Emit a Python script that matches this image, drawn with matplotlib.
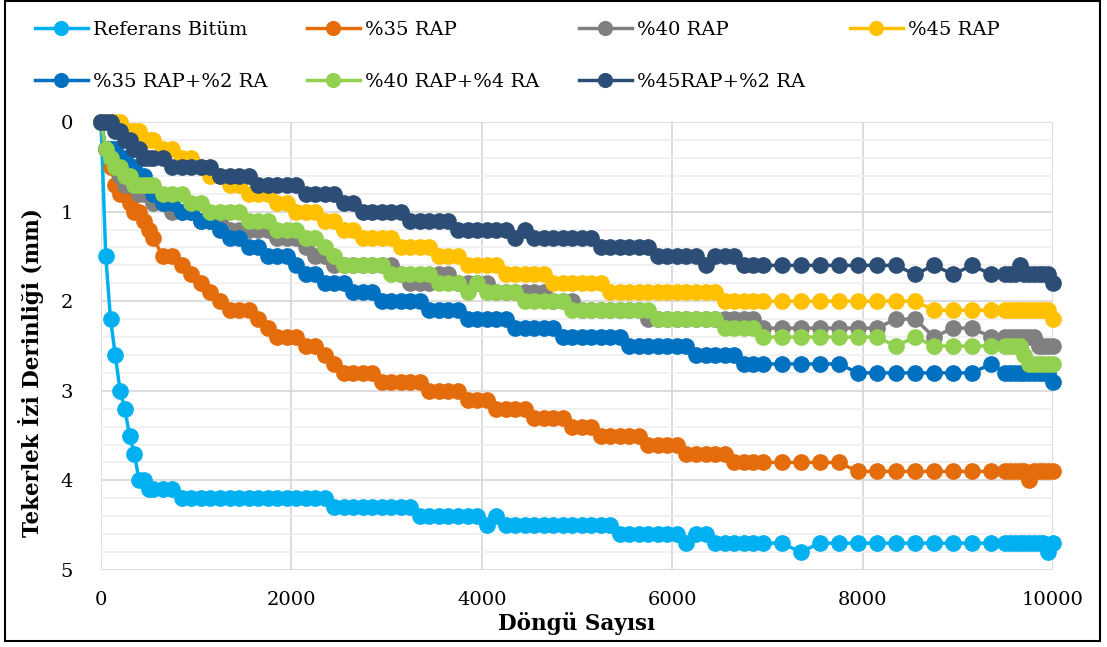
import matplotlib
matplotlib.use('Agg')
import matplotlib.pyplot as plt
from matplotlib.patches import Rectangle
import numpy as np

plt.rcParams['font.family'] = ['DejaVu Serif']

# cycle counts at which rut depth was read
cycles = [0, 50, 100, 150, 200, 250, 300, 350, 400, 450, 500,
          550, 650, 750, 850, 950, 1050, 1150, 1250, 1350, 1450,
          1550, 1650, 1750, 1850, 1950, 2050, 2150, 2250, 2350, 2450,
          2550, 2650, 2750, 2850, 2950, 3050, 3150, 3250, 3350, 3450,
          3550, 3650, 3750, 3850, 3950, 4050, 4150, 4250, 4350, 4450,
          4550, 4650, 4750, 4850, 4950, 5050, 5150, 5250, 5350, 5450,
          5550, 5650, 5750, 5850, 5950, 6050, 6150, 6250, 6350, 6450,
          6550, 6650, 6750, 6850, 6950,
          7150, 7350, 7550, 7750, 7950, 8150, 8350, 8550, 8750, 8950, 9150, 9350,
          9500, 9550, 9600, 9650, 9700, 9750, 9800, 9850, 9900, 9950, 10000]

ref_bitum = [0, 1.5, 2.2, 2.6, 3.0, 3.2, 3.5, 3.7, 4.0, 4.0, 4.1,
             4.1, 4.1, 4.1, 4.2, 4.2, 4.2, 4.2, 4.2, 4.2, 4.2,
             4.2, 4.2, 4.2, 4.2, 4.2, 4.2, 4.2, 4.2, 4.2, 4.3,
             4.3, 4.3, 4.3, 4.3, 4.3, 4.3, 4.3, 4.3, 4.4, 4.4,
             4.4, 4.4, 4.4, 4.4, 4.4, 4.5, 4.4, 4.5, 4.5, 4.5,
             4.5, 4.5, 4.5, 4.5, 4.5, 4.5, 4.5, 4.5, 4.5, 4.6,
             4.6, 4.6, 4.6, 4.6, 4.6, 4.6, 4.7, 4.6, 4.6, 4.7,
             4.7, 4.7, 4.7, 4.7, 4.7,
             4.7, 4.8, 4.7, 4.7, 4.7, 4.7, 4.7, 4.7, 4.7, 4.7, 4.7, 4.7,
             4.7, 4.7, 4.7, 4.7, 4.7, 4.7, 4.7, 4.7, 4.7, 4.8, 4.7]

rap35 = [0, 0.3, 0.5, 0.7, 0.8, 0.8, 0.9, 1.0, 1.0, 1.1, 1.2,
         1.3, 1.5, 1.5, 1.6, 1.7, 1.8, 1.9, 2.0, 2.1, 2.1,
         2.1, 2.2, 2.3, 2.4, 2.4, 2.4, 2.5, 2.5, 2.6, 2.7,
         2.8, 2.8, 2.8, 2.8, 2.9, 2.9, 2.9, 2.9, 2.9, 3.0,
         3.0, 3.0, 3.0, 3.1, 3.1, 3.1, 3.2, 3.2, 3.2, 3.2,
         3.3, 3.3, 3.3, 3.3, 3.4, 3.4, 3.4, 3.5, 3.5, 3.5,
         3.5, 3.5, 3.6, 3.6, 3.6, 3.6, 3.7, 3.7, 3.7, 3.7,
         3.7, 3.8, 3.8, 3.8, 3.8,
         3.8, 3.8, 3.8, 3.8, 3.9, 3.9, 3.9, 3.9, 3.9, 3.9, 3.9, 3.9,
         3.9, 3.9, 3.9, 3.9, 3.9, 4.0, 3.9, 3.9, 3.9, 3.9, 3.9]

rap40 = [0, 0.3, 0.4, 0.5, 0.6, 0.7, 0.7, 0.7, 0.8, 0.8, 0.8,
         0.9, 0.9, 1.0, 1.0, 1.0, 1.1, 1.1, 1.1, 1.2, 1.2,
         1.2, 1.2, 1.2, 1.3, 1.3, 1.3, 1.4, 1.5, 1.5, 1.6,
         1.6, 1.6, 1.6, 1.6, 1.6, 1.6, 1.7, 1.8, 1.8, 1.8,
         1.7, 1.7, 1.8, 1.8, 1.8, 1.8, 1.9, 1.9, 1.9, 1.9,
         1.9, 1.9, 2.0, 2.0, 2.0, 2.1, 2.1, 2.1, 2.1, 2.1,
         2.1, 2.1, 2.2, 2.2, 2.2, 2.2, 2.2, 2.2, 2.2, 2.2,
         2.2, 2.2, 2.2, 2.2, 2.3,
         2.3, 2.3, 2.3, 2.3, 2.3, 2.3, 2.2, 2.2, 2.4, 2.3, 2.3, 2.4,
         2.4, 2.4, 2.4, 2.4, 2.4, 2.4, 2.4, 2.5, 2.5, 2.5, 2.5]

rap45 = [0, 0, 0, 0, 0, 0.1, 0.1, 0.1, 0.1, 0.2, 0.2,
         0.2, 0.3, 0.3, 0.4, 0.4, 0.5, 0.6, 0.6, 0.7, 0.7,
         0.8, 0.8, 0.8, 0.9, 0.9, 1.0, 1.0, 1.0, 1.1, 1.1,
         1.2, 1.2, 1.3, 1.3, 1.3, 1.3, 1.4, 1.4, 1.4, 1.4,
         1.5, 1.5, 1.5, 1.6, 1.6, 1.6, 1.6, 1.7, 1.7, 1.7,
         1.7, 1.7, 1.8, 1.8, 1.8, 1.8, 1.8, 1.8, 1.9, 1.9,
         1.9, 1.9, 1.9, 1.9, 1.9, 1.9, 1.9, 1.9, 1.9, 1.9,
         2.0, 2.0, 2.0, 2.0, 2.0,
         2.0, 2.0, 2.0, 2.0, 2.0, 2.0, 2.0, 2.0, 2.1, 2.1, 2.1, 2.1,
         2.1, 2.1, 2.1, 2.1, 2.1, 2.1, 2.1, 2.1, 2.1, 2.1, 2.2]

rap35_ra2 = [0, 0.3, 0.3, 0.3, 0.4, 0.4, 0.5, 0.5, 0.6, 0.6, 0.7,
             0.8, 0.9, 0.9, 1.0, 1.0, 1.1, 1.1, 1.2, 1.3, 1.3,
             1.4, 1.4, 1.5, 1.5, 1.5, 1.6, 1.7, 1.7, 1.8, 1.8,
             1.8, 1.9, 1.9, 1.9, 2.0, 2.0, 2.0, 2.0, 2.0, 2.1,
             2.1, 2.1, 2.1, 2.2, 2.2, 2.2, 2.2, 2.2, 2.3, 2.3,
             2.3, 2.3, 2.3, 2.4, 2.4, 2.4, 2.4, 2.4, 2.4, 2.4,
             2.5, 2.5, 2.5, 2.5, 2.5, 2.5, 2.5, 2.6, 2.6, 2.6,
             2.6, 2.6, 2.7, 2.7, 2.7,
             2.7, 2.7, 2.7, 2.7, 2.8, 2.8, 2.8, 2.8, 2.8, 2.8, 2.8, 2.7,
             2.8, 2.8, 2.8, 2.8, 2.8, 2.8, 2.8, 2.8, 2.8, 2.8, 2.9]

rap40_ra4 = [0, 0.3, 0.4, 0.5, 0.5, 0.6, 0.6, 0.7, 0.7, 0.7, 0.7,
             0.7, 0.8, 0.8, 0.8, 0.9, 0.9, 1.0, 1.0, 1.0, 1.0,
             1.1, 1.1, 1.1, 1.2, 1.2, 1.2, 1.3, 1.3, 1.4, 1.5,
             1.6, 1.6, 1.6, 1.6, 1.6, 1.7, 1.7, 1.7, 1.7, 1.7,
             1.8, 1.8, 1.8, 1.9, 1.8, 1.9, 1.9, 1.9, 1.9, 2.0,
             2.0, 2.0, 2.0, 2.0, 2.1, 2.1, 2.1, 2.1, 2.1, 2.1,
             2.1, 2.1, 2.1, 2.2, 2.2, 2.2, 2.2, 2.2, 2.2, 2.2,
             2.3, 2.3, 2.3, 2.3, 2.4,
             2.4, 2.4, 2.4, 2.4, 2.4, 2.4, 2.5, 2.4, 2.5, 2.5, 2.5, 2.5,
             2.5, 2.5, 2.5, 2.5, 2.6, 2.7, 2.7, 2.7, 2.7, 2.7, 2.7]

rap45_ra2 = [0, 0, 0, 0.1, 0.1, 0.2, 0.2, 0.3, 0.3, 0.4, 0.4,
             0.4, 0.4, 0.5, 0.5, 0.5, 0.5, 0.5, 0.6, 0.6, 0.6,
             0.6, 0.7, 0.7, 0.7, 0.7, 0.7, 0.8, 0.8, 0.8, 0.8,
             0.9, 0.9, 1.0, 1.0, 1.0, 1.0, 1.0, 1.1, 1.1, 1.1,
             1.1, 1.1, 1.2, 1.2, 1.2, 1.2, 1.2, 1.2, 1.3, 1.2,
             1.3, 1.3, 1.3, 1.3, 1.3, 1.3, 1.3, 1.4, 1.4, 1.4,
             1.4, 1.4, 1.4, 1.5, 1.5, 1.5, 1.5, 1.5, 1.6, 1.5,
             1.5, 1.5, 1.6, 1.6, 1.6,
             1.6, 1.6, 1.6, 1.6, 1.6, 1.6, 1.6, 1.7, 1.6, 1.7, 1.6, 1.7,
             1.7, 1.7, 1.7, 1.6, 1.7, 1.7, 1.7, 1.7, 1.7, 1.7, 1.8]

labels = ['Referans Bitüm', '%35 RAP', '%40 RAP', '%45 RAP',
          '%35 RAP+%2 RA', '%40 RAP+%4 RA', '%45RAP+%2 RA']
series = [ref_bitum, rap35, rap40, rap45, rap35_ra2, rap40_ra4, rap45_ra2]
colors = ['#00B0F0', '#E46C0A', '#808080', '#FFC000', '#0070C0', '#92D050', '#2C4D75']

W, H = 1107, 647
fig = plt.figure(figsize=(W / 100, H / 100), dpi=100)
ax = fig.add_axes([101 / W, 1 - 570 / H, (1053 - 101) / W, (570 - 122) / H])

handles = []
for i, (vals, col, lab) in enumerate(zip(series, colors, labels)):
    line, = ax.plot(cycles, vals, color=col, lw=2.5, marker='o', ms=11,
                    label=lab, clip_on=False, zorder=3 + i)
    handles.append(line)

ax.set_xlim(0, 10000)
ax.set_ylim(5, 0)
ax.set_xticks(range(0, 10001, 2000))
ax.set_yticks(range(0, 6))
ax.set_yticks(np.arange(0, 5.01, 0.2), minor=True)
ax.grid(which='major', color='#D9D9D9', lw=1.3, zorder=0)
ax.grid(which='minor', axis='y', color='#EFEFEF', lw=1.2, zorder=0)
ax.set_axisbelow(True)
for s in ax.spines.values():
    s.set_visible(False)
ax.tick_params(which='both', length=0, labelsize=14)
ax.tick_params(axis='y', pad=20)
ax.tick_params(axis='x', pad=15)

ax.set_xlabel('Döngü Sayısı', fontsize=15.5, fontweight='bold', labelpad=2)
ax.set_ylabel('Tekerlek İzi Derinliği (mm)', fontsize=15.5, fontweight='bold')
ax.yaxis.set_label_coords(-0.06, 0.44)

# legend entries placed in a 4-column grid above the plot
col_x = [35, 307, 579, 850]
row_y = [30, 82]
for i, (h, lab) in enumerate(zip(handles, labels)):
    x = col_x[i % 4] / W
    y = 1 - row_y[i // 4] / H
    fig.legend([h], [lab], loc='center left', bbox_to_anchor=(x, y), frameon=False,
               fontsize=14, handlelength=2.7, handletextpad=0.3,
               borderpad=0, borderaxespad=0, markerscale=0.9)

fig.patches.append(Rectangle((5 / W, 6 / H), (1100 - 5) / W, (H - 7) / H,
                             transform=fig.transFigure, fill=False,
                             edgecolor='black', lw=1.5))

fig.savefig('out.png', dpi=100)
